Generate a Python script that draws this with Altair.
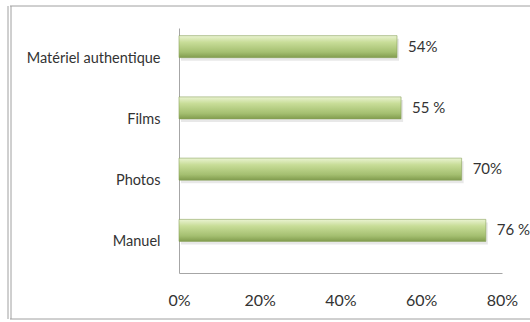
import altair as alt
import pandas as pd

categories = ["Matériel authentique", "Films", "Photos", "Manuel"]
values = [0.54, 0.55, 0.70, 0.76]
value_labels = ["54%", "55\u202f%", "70%", "76\u202f%"]
x_ticks = [0, 0.2, 0.4, 0.6, 0.8]

df = pd.DataFrame({"cat": categories, "val": values, "lab": value_labels})

FONT = "Lato"

y_enc = alt.Y("cat:N", sort=categories, title=None,
              scale=alt.Scale(paddingInner=0.0, paddingOuter=0.0),
              axis=alt.Axis(labelFont=FONT, labelFontSize=14.5, labelColor="#333333",
                            ticks=False, domainColor="#a6a6a6", labelPadding=19,
                            labelLimit=200))
x_enc = alt.X("val:Q", title=None,
              scale=alt.Scale(domain=[0, 0.8], nice=False),
              axis=alt.Axis(values=x_ticks, format=".0%", grid=False, ticks=False,
                            labelFont=FONT, labelFontSize=16, labelColor="#333333",
                            domainColor="#a6a6a6", labelPadding=19, labelFlush=False))

grad = alt.Gradient(
    gradient="linear", x1=0, x2=0, y1=0, y2=1,
    stops=[alt.GradientStop(offset=0, color="#eaf3d2"),
           alt.GradientStop(offset=0.3, color="#c8dd98"),
           alt.GradientStop(offset=0.75, color="#a4bf70"),
           alt.GradientStop(offset=1, color="#819c4e")])

shadow = alt.Chart(df).mark_bar(size=22, yOffset=-9, xOffset=2, color="#d8d8d8",
                                opacity=0.6).encode(y=y_enc, x=x_enc)
bars = alt.Chart(df).mark_bar(size=22, yOffset=-12, color=grad, stroke="#8aa25a",
                              strokeWidth=0.6).encode(y=y_enc, x=x_enc)
texts = alt.Chart(df).mark_text(align="left", dx=11, yOffset=-12, font=FONT,
                                fontSize=15, color="#333333").encode(
    y=alt.Y("cat:N", sort=categories), x="val:Q", text="lab:N")

one = pd.DataFrame({"a": [0]})
top_line = alt.Chart(one).mark_rule(color="#a0a0a0", strokeWidth=1).encode(
    x=alt.value(-169), x2=alt.value(360), y=alt.value(-22))
bottom_line = alt.Chart(one).mark_rule(color="#a0a0a0", strokeWidth=1).encode(
    x=alt.value(-169), x2=alt.value(360), y=alt.value(291))
left1 = alt.Chart(one).mark_rule(color="#a0a0a0", strokeWidth=1).encode(
    x=alt.value(-171), y=alt.value(-22), y2=alt.value(291))
left2 = alt.Chart(one).mark_rule(color="#a0a0a0", strokeWidth=1).encode(
    x=alt.value(-168), y=alt.value(-22), y2=alt.value(291))

chart = alt.layer(shadow, bars, texts, top_line, bottom_line, left1, left2).properties(
    width=323, height=245,
    autosize=alt.AutoSizeParams(type="none"),
    padding={"left": 179, "top": 28, "right": 28, "bottom": 49},
    background="white",
).configure_view(stroke=None)

chart.save("out.html", embed_options={"renderer": "svg", "actions": False})
